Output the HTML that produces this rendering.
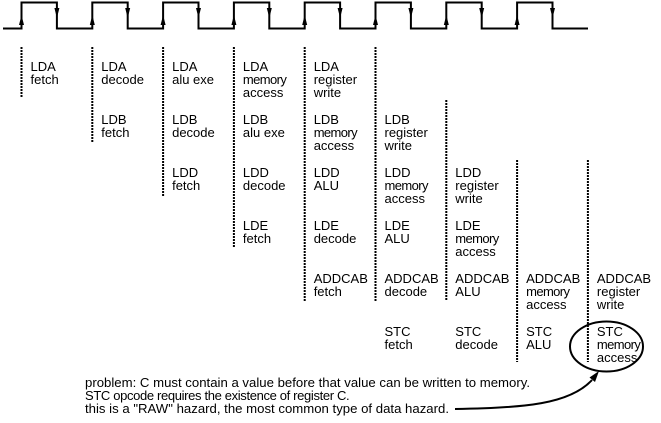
<!DOCTYPE html>
<html><head><meta charset="utf-8">
<style>
html,body{margin:0;padding:0;background:#fff;}
svg{display:block;}
text{font-family:"Liberation Sans",Arial,sans-serif;font-size:13px;fill:#000;}
.m{letter-spacing:-0.6px;}
</style></head>
<body>
<svg width="661" height="423" viewBox="0 0 661 423" xmlns="http://www.w3.org/2000/svg">
<!-- clock -->
<path d="M3,28.5 H21.5 V2.5 H56.9 V28.5 H92.3 V2.5 H127.7 V28.5 H163.1 V2.5 H198.5 V28.5 H233.9 V2.5 H269.3 V28.5 H304.7 V2.5 H340.1 V28.5 H375.5 V2.5 H410.9 V28.5 H446.3 V2.5 H481.7 V28.5 H517.1 V2.5 H552.5 V28.5 H588" fill="none" stroke="#000" stroke-width="2"/>
<g fill="#000">
<polygon points="21.5,15 19,25 24,25"/>
<polygon points="92.3,15 89.8,25 94.8,25"/>
<polygon points="163.1,15 160.6,25 165.6,25"/>
<polygon points="233.9,15 231.4,25 236.4,25"/>
<polygon points="304.7,15 302.2,25 307.2,25"/>
<polygon points="375.5,15 373,25 378,25"/>
<polygon points="446.3,15 443.8,25 448.8,25"/>
<polygon points="517.1,15 514.6,25 519.6,25"/>
<polygon points="56.9,18 54.4,8 59.4,8"/>
<polygon points="127.7,18 125.2,8 130.2,8"/>
<polygon points="198.5,18 196,8 201,8"/>
<polygon points="269.3,18 266.8,8 271.8,8"/>
<polygon points="340.1,18 337.6,8 342.6,8"/>
<polygon points="410.9,18 408.4,8 413.4,8"/>
<polygon points="481.7,18 479.2,8 484.2,8"/>
<polygon points="552.5,18 550,8 555,8"/>
</g>
<!-- dashed lines -->
<g stroke="#000" stroke-width="2" stroke-dasharray="2 1">
<line x1="21.5" y1="47" x2="21.5" y2="98"/>
<line x1="92.3" y1="47" x2="92.3" y2="143"/>
<line x1="163.1" y1="47" x2="163.1" y2="197"/>
<line x1="233.9" y1="47" x2="233.9" y2="248"/>
<line x1="304.7" y1="47" x2="304.7" y2="301"/>
<line x1="375.5" y1="47" x2="375.5" y2="301"/>
<line x1="446.3" y1="100" x2="446.3" y2="301"/>
<line x1="517.1" y1="160" x2="517.1" y2="362"/>
<line x1="587.9" y1="160" x2="587.9" y2="362"/>
</g>
<!-- row 0 LDA -->
<text x="30.5" y="71">LDA</text><text x="30.5" y="84">fetch</text>
<text x="101.3" y="71">LDA</text><text x="101.3" y="84">decode</text>
<text x="172.1" y="71">LDA</text><text x="172.1" y="84">alu exe</text>
<text x="242.9" y="71">LDA</text><text class="m" x="242.9" y="84">memory</text><text x="242.9" y="97">access</text>
<text x="313.7" y="71">LDA</text><text x="313.7" y="84">register</text><text x="313.7" y="97">write</text>
<!-- row 1 LDB -->
<text x="101.3" y="124">LDB</text><text x="101.3" y="137">fetch</text>
<text x="172.1" y="124">LDB</text><text x="172.1" y="137">decode</text>
<text x="242.9" y="124">LDB</text><text x="242.9" y="137">alu exe</text>
<text x="313.7" y="124">LDB</text><text class="m" x="313.7" y="137">memory</text><text x="313.7" y="150">access</text>
<text x="384.5" y="124">LDB</text><text x="384.5" y="137">register</text><text x="384.5" y="150">write</text>
<!-- row 2 LDD -->
<text x="172.1" y="177">LDD</text><text x="172.1" y="190">fetch</text>
<text x="242.9" y="177">LDD</text><text x="242.9" y="190">decode</text>
<text x="313.7" y="177">LDD</text><text x="313.7" y="190">ALU</text>
<text x="384.5" y="177">LDD</text><text class="m" x="384.5" y="190">memory</text><text x="384.5" y="203">access</text>
<text x="455.3" y="177">LDD</text><text x="455.3" y="190">register</text><text x="455.3" y="203">write</text>
<!-- row 3 LDE -->
<text x="242.9" y="230">LDE</text><text x="242.9" y="243">fetch</text>
<text x="313.7" y="230">LDE</text><text x="313.7" y="243">decode</text>
<text x="384.5" y="230">LDE</text><text x="384.5" y="243">ALU</text>
<text x="455.3" y="230">LDE</text><text class="m" x="455.3" y="243">memory</text><text x="455.3" y="256">access</text>
<!-- row 4 ADDCAB -->
<text x="313.7" y="283">ADDCAB</text><text x="313.7" y="296">fetch</text>
<text x="384.5" y="283">ADDCAB</text><text x="384.5" y="296">decode</text>
<text x="455.3" y="283">ADDCAB</text><text x="455.3" y="296">ALU</text>
<text x="526.1" y="283">ADDCAB</text><text class="m" x="526.1" y="296">memory</text><text x="526.1" y="309">access</text>
<text x="596.9" y="283">ADDCAB</text><text x="596.9" y="296">register</text><text x="596.9" y="309">write</text>
<!-- row 5 STC -->
<text x="384.5" y="336">STC</text><text x="384.5" y="349">fetch</text>
<text x="455.3" y="336">STC</text><text x="455.3" y="349">decode</text>
<text x="526.1" y="336">STC</text><text x="526.1" y="349">ALU</text>
<text x="596.9" y="336">STC</text><text class="m" x="596.9" y="349">memory</text><text x="596.9" y="362">access</text>
<!-- ellipse -->
<ellipse cx="606.5" cy="346.5" rx="36.5" ry="25" fill="none" stroke="#000" stroke-width="2"/>
<!-- arrow -->
<path d="M455,409 C525,408 570,404 592,380" fill="none" stroke="#000" stroke-width="2"/>
<polygon points="599,371 595,382 589.5,377.5" fill="#000"/>
<!-- bottom text -->
<text x="85" y="387" textLength="445" lengthAdjust="spacingAndGlyphs">problem: C must contain a value before that value can be written to memory.</text>
<text x="85" y="400" style="letter-spacing:-0.35px">STC opcode requires the existence of register C.</text>
<text x="85" y="413" textLength="364" lengthAdjust="spacingAndGlyphs">this is a "RAW" hazard, the most common type of data hazard.</text>
</svg>
</body></html>
